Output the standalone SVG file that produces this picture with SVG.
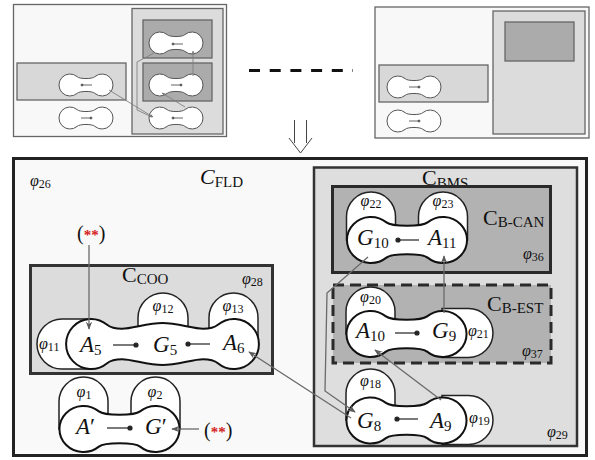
<svg xmlns="http://www.w3.org/2000/svg" width="595" height="460" viewBox="0 0 595 460">
<style>
.t{font-family:"Liberation Serif","DejaVu Serif",serif;fill:#111}
.it{font-style:italic}
.L{font-size:23px}
.S{font-size:15px}
.C{font-size:22px}
.phi{font-size:16px;font-style:italic}
.ps{font-size:12px;font-style:normal}
.red{fill:#d42020;font-size:15px;font-weight:bold}
.par{font-size:20px}
.node{fill:#fff;stroke:#111;stroke-width:2}
.ear{fill:#fff;stroke:#222;stroke-width:1.5}
.mini{fill:#fff;stroke:#555;stroke-width:1}
.tb{stroke:#666;stroke-width:1.3}
.con{fill:none;stroke:#6a6a6a;stroke-width:1.3}
.mcon{fill:none;stroke:#808080;stroke-width:0.9}
.dl{stroke:#222;stroke-width:1.2}
.dm{stroke:#555;stroke-width:0.9}
</style>
<defs>
<path id="pn" class="node" d="M-20.6,-17.6 C-15.1,-13.2 15.1,-13.2 20.6,-17.6 A24,23 0 1 1 20.6,17.6 C15.1,13.2 -15.1,13.2 -20.6,17.6 A24,23 0 1 1 -20.6,-17.6 Z"/>
<path id="pm" class="mini" d="M-8.9,-8.4 C-6.6,-5.8 6.6,-5.8 8.9,-8.4 A11,11 0 1 1 8.9,8.4 C6.6,5.8 -6.6,5.8 -8.9,8.4 A11,11 0 1 1 -8.9,-8.4 Z"/>
<marker id="ah" viewBox="0 0 10 10" refX="9" refY="5" markerWidth="8" markerHeight="8" markerUnits="userSpaceOnUse" orient="auto"><path d="M0,1 L10,5 L0,9 L3,5 Z" fill="#5a5a5a"/></marker>
<marker id="ahm" viewBox="0 0 10 10" refX="9" refY="5" markerWidth="4" markerHeight="4" markerUnits="userSpaceOnUse" orient="auto"><path d="M0,1 L10,5 L0,9 L3,5 Z" fill="#777"/></marker>
</defs>

<!-- top-left thumbnail -->
<g id="thumb-left">
<rect x="13.5" y="4.5" width="213" height="132" fill="#f8f8f8" class="tb"/>
<rect x="132" y="8.5" width="91" height="125.5" fill="#dcdcdc" class="tb"/>
<rect x="143" y="20" width="69" height="38" fill="#ababab" class="tb"/>
<rect x="143" y="63" width="69" height="38" fill="#ababab" class="tb"/>
<rect x="17" y="63" width="109" height="37" fill="#d8d8d8" class="tb"/>
<use href="#pm" x="176" y="43"/>
<use href="#pm" x="176" y="85"/>
<use href="#pm" x="176" y="118"/>
<use href="#pm" x="86" y="85"/>
<use href="#pm" x="86" y="118"/>
<g class="dm">
<line x1="173" y1="44" x2="183" y2="44"/><circle cx="173" cy="44" r="1" fill="#555"/>
<line x1="171" y1="85" x2="181" y2="85"/><circle cx="181" cy="85" r="1" fill="#555"/>
<line x1="173" y1="118" x2="183" y2="118"/><circle cx="173" cy="118" r="1" fill="#555"/>
<line x1="82" y1="85" x2="92" y2="85"/><circle cx="82" cy="85" r="1" fill="#555"/>
<line x1="81" y1="118" x2="91" y2="118"/><circle cx="91" cy="118" r="1" fill="#555"/>
</g>
<path class="mcon" d="M109,90 L153,117" marker-end="url(#ahm)"/>
<path class="mcon" d="M154,53 L137,62 L137,110 L152,117" marker-end="url(#ahm)"/>
<path class="mcon" d="M193,76 L193,51" marker-end="url(#ahm)"/>
<path class="mcon" d="M185,107 L162,93" marker-end="url(#ahm)"/>
</g>

<!-- dashes and down arrow -->
<line x1="249" y1="70.5" x2="353" y2="70.5" stroke="#111" stroke-width="3" stroke-dasharray="11 9.7"/>
<path d="M294.5,120 V143 M306.5,120 V143 M289,138 L300.5,153 L312,138" fill="none" stroke="#444" stroke-width="1"/>

<!-- top-right thumbnail -->
<g id="thumb-right">
<rect x="375" y="7" width="214" height="131" fill="#f8f8f8" class="tb"/>
<rect x="493" y="11" width="92" height="123" fill="#dcdcdc" class="tb"/>
<rect x="505" y="22" width="69" height="39" fill="#ababab" class="tb"/>
<rect x="379" y="65" width="109" height="37" fill="#d8d8d8" class="tb"/>
<use href="#pm" x="414" y="87"/>
<use href="#pm" x="414" y="121"/>
<g class="dm">
<line x1="409" y1="87" x2="419" y2="87"/><circle cx="419" cy="87" r="1" fill="#555"/>
<line x1="409" y1="121" x2="419" y2="121"/><circle cx="419" cy="121" r="1" fill="#555"/>
</g>
</g>

<!-- main frame -->
<g id="frame-FLD">
<rect x="13.5" y="158.5" width="573" height="297" fill="#f9f9f9" stroke="#222" stroke-width="3"/>
<text class="t" x="200" y="184"><tspan class="C it">C</tspan><tspan class="S" dy="3">FLD</tspan></text>
<text class="t" x="30" y="186"><tspan class="phi">φ</tspan><tspan class="ps" dy="2">26</tspan></text>
</g>

<g id="box-COO">
<rect x="30.5" y="265.5" width="242" height="108" fill="#dcdcdc" stroke="#333" stroke-width="3"/>
<text class="t" x="122" y="282"><tspan class="C">C</tspan><tspan class="S" dy="2">COO</tspan></text>
<text class="t" x="242" y="284"><tspan class="phi">φ</tspan><tspan class="ps" dy="2">28</tspan></text>
</g>

<g id="box-BMS">
<rect x="314" y="167.5" width="263" height="278.5" fill="#dedede" stroke="#333" stroke-width="2.5"/>
<text class="t" x="422" y="185"><tspan class="C">C</tspan><tspan class="S" dy="3">BMS</tspan></text>
<text class="t" x="547" y="437"><tspan class="phi">φ</tspan><tspan class="ps" dy="2">29</tspan></text>
</g>

<g id="box-CAN">
<rect x="332.5" y="186.5" width="218" height="86" fill="#b2b2b2" stroke="#2a2a2a" stroke-width="3"/>
<text class="t" x="483" y="225"><tspan class="C">C</tspan><tspan class="S" dy="2">B-CAN</tspan></text>
<text class="t" x="523" y="259"><tspan class="phi">φ</tspan><tspan class="ps" dy="2">36</tspan></text>
</g>

<g id="box-EST">
<rect x="333" y="285" width="218" height="78" fill="#b2b2b2" stroke="#2a2a2a" stroke-width="3" stroke-dasharray="11 6"/>
<text class="t" x="487" y="311"><tspan class="C">C</tspan><tspan class="S" dy="2">B-EST</tspan></text>
<text class="t" x="522" y="356"><tspan class="phi">φ</tspan><tspan class="ps" dy="2">37</tspan></text>
</g>

<!-- nodes -->
<g id="node-A5-G5-A6">
<path class="ear" d="M91,319 H62 A25,25 0 0 0 62,369 H91 Z"/>
<path class="ear" d="M138,344 V318 A25,25 0 0 1 188,318 V344 Z"/>
<path class="ear" d="M209,344 V317.5 A24.5,24.5 0 0 1 258,317.5 V344 Z"/>
<path class="node" d="M107.1,324.8 C111,328 117,328.8 122,328.8 C132,328.8 148,323 162.5,323 C177,323 193,328.8 203,328.8 C208,328.8 214,328 217.9,324.8 A25,25 0 1 1 217.9,363.2 C214,360 208,359.2 203,359.2 C193,359.2 177,365 162.5,365 C148,365 132,359.2 122,359.2 C117,359.2 111,360 107.1,363.2 A25,25 0 1 1 107.1,324.8 Z"/>
<text class="t" x="39" y="349"><tspan class="phi">φ</tspan><tspan class="ps" dy="2">11</tspan></text>
<text class="t" x="163" y="311" text-anchor="middle"><tspan class="phi">φ</tspan><tspan class="ps" dy="2">12</tspan></text>
<text class="t" x="233" y="311" text-anchor="middle"><tspan class="phi">φ</tspan><tspan class="ps" dy="2">13</tspan></text>
<text class="t" x="80" y="352"><tspan class="L it">A</tspan><tspan class="S" dy="3">5</tspan></text>
<text class="t" x="153" y="352"><tspan class="L it">G</tspan><tspan class="S" dy="3">5</tspan></text>
<text class="t" x="223" y="350"><tspan class="L it">A</tspan><tspan class="S" dy="3">6</tspan></text>
<g class="dl"><line x1="113" y1="345" x2="136" y2="345"/><circle cx="136" cy="345" r="2" fill="#222"/>
<line x1="188" y1="344" x2="210" y2="344"/><circle cx="188" cy="344" r="2" fill="#222"/></g>
</g>

<g id="node-A-G">
<path class="ear" d="M59,429 V401.5 A24.5,24.5 0 0 1 108,401.5 V429 Z"/>
<path class="ear" d="M131,429 V401.5 A24.5,24.5 0 0 1 180,401.5 V429 Z"/>
<use href="#pn" x="119.5" y="429"/>
<text class="t" x="84" y="397" text-anchor="middle"><tspan class="phi">φ</tspan><tspan class="ps" dy="2">1</tspan></text>
<text class="t" x="155" y="397" text-anchor="middle"><tspan class="phi">φ</tspan><tspan class="ps" dy="2">2</tspan></text>
<text class="t L" x="76" y="434"><tspan class="it">A</tspan><tspan>′</tspan></text>
<text class="t L" x="145" y="434"><tspan class="it">G</tspan><tspan>′</tspan></text>
<g class="dl"><line x1="107" y1="428" x2="130" y2="428"/><circle cx="130" cy="428" r="2" fill="#222"/></g>
</g>

<g id="node-G10-A11">
<path class="ear" d="M346.5,240 V216.5 A24.5,24.5 0 0 1 395.5,216.5 V240 Z"/>
<path class="ear" d="M418.5,240 V216.5 A24.5,24.5 0 0 1 467.5,216.5 V240 Z"/>
<use href="#pn" x="407" y="240"/>
<text class="t" x="371" y="206" text-anchor="middle"><tspan class="phi">φ</tspan><tspan class="ps" dy="2">22</tspan></text>
<text class="t" x="443" y="206" text-anchor="middle"><tspan class="phi">φ</tspan><tspan class="ps" dy="2">23</tspan></text>
<text class="t" x="357" y="245"><tspan class="L it">G</tspan><tspan class="S" dy="3">10</tspan></text>
<text class="t" x="428" y="245"><tspan class="L it">A</tspan><tspan class="S" dy="3">11</tspan></text>
<g class="dl"><line x1="398" y1="240" x2="419" y2="240"/><circle cx="398" cy="240" r="2" fill="#222"/></g>
</g>

<g id="node-A10-G9">
<path class="ear" d="M442,308.5 H468.5 A24.5,24.5 0 0 1 468.5,357.5 H442 Z"/>
<path class="ear" d="M346,334 V311.5 A24.5,24.5 0 0 1 395,311.5 V334 Z"/>
<use href="#pn" x="406.5" y="334"/>
<text class="t" x="370.5" y="302" text-anchor="middle"><tspan class="phi">φ</tspan><tspan class="ps" dy="2">20</tspan></text>
<text class="t" x="468" y="336"><tspan class="phi">φ</tspan><tspan class="ps" dy="2">21</tspan></text>
<text class="t" x="356" y="338"><tspan class="L it">A</tspan><tspan class="S" dy="3">10</tspan></text>
<text class="t" x="432" y="338"><tspan class="L it">G</tspan><tspan class="S" dy="3">9</tspan></text>
<g class="dl"><line x1="395" y1="333" x2="417" y2="333"/><circle cx="417" cy="333" r="2" fill="#222"/></g>
</g>

<g id="node-G8-A9">
<path class="ear" d="M442,395.5 H468.5 A24.5,24.5 0 0 1 468.5,444.5 H442 Z"/>
<path class="ear" d="M346,420 V393.5 A24.5,24.5 0 0 1 395,393.5 V420 Z"/>
<use href="#pn" x="406.5" y="420.5"/>
<text class="t" x="370.5" y="386" text-anchor="middle"><tspan class="phi">φ</tspan><tspan class="ps" dy="2">18</tspan></text>
<text class="t" x="469" y="423"><tspan class="phi">φ</tspan><tspan class="ps" dy="2">19</tspan></text>
<text class="t" x="357" y="428"><tspan class="L it">G</tspan><tspan class="S" dy="3">8</tspan></text>
<text class="t" x="430" y="428"><tspan class="L it">A</tspan><tspan class="S" dy="3">9</tspan></text>
<g class="dl"><line x1="397" y1="419" x2="418" y2="419"/><circle cx="397" cy="419" r="2" fill="#222"/></g>
</g>

<g id="ext-top">
<text class="t par" x="77" y="240">(<tspan class="red">**</tspan>)</text>
</g>
<g id="ext-right">
<text class="t par" x="204" y="437">(<tspan class="red">**</tspan>)</text>
</g>

<!-- connectors -->
<g id="connectors">
<path class="con" d="M89,245 V329" marker-end="url(#ah)"/>
<path class="con" d="M199,429 H172" marker-end="url(#ah)"/>
<path class="con" d="M351,418 L249,352" marker-end="url(#ah)"/>
<path class="con" d="M368,257 L327,293 L325,391 L355,412" marker-end="url(#ah)"/>
<path class="con" d="M444,313 V256" marker-end="url(#ah)"/>
<path class="con" d="M441,400 L375,350" marker-end="url(#ah)"/>
</g>
</svg>
